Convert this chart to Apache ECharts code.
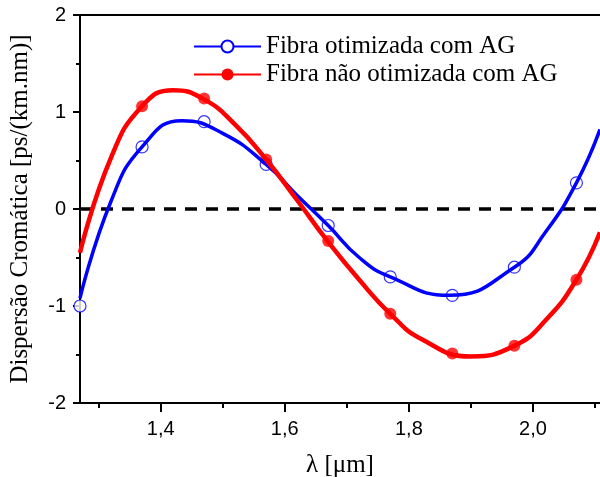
<!DOCTYPE html>
<html>
<head>
    <meta charset="UTF-8">
    <title></title>
    <script src="https://cdn.jsdelivr.net/npm/echarts@6/dist/echarts.min.js"></script>
    <style>
        html, body { margin: 0; padding: 0; background: #fff; }
        #container { width: 600px; height: 477px; }
    </style>
</head>
<body>
    <div id="container"></div>
    <script type="text/javascript">
        // marker positions (red first marker is not visible in the picture)
        var markX = [1.27, 1.37, 1.47, 1.57, 1.67, 1.77, 1.87, 1.97, 2.07];
        var blueMark = [-1.00, 0.64, 0.90, 0.46, -0.17, -0.70, -0.89, -0.60, 0.27];
        var redMark = [null, 1.06, 1.14, 0.51, -0.33, -1.08, -1.49, -1.41, -0.73];

        // curves (one point at each turning point)
        var blueCurveX = [1.27, 1.32, 1.37, 1.434, 1.50, 1.57, 1.62, 1.67, 1.72, 1.77, 1.865, 1.97, 2.02, 2.07, 2.108];
        var blueCurveY = [-0.92, 0.08, 0.64, 0.91, 0.78, 0.46, 0.14, -0.17, -0.50, -0.70, -0.89, -0.60, -0.24, 0.27, 0.82];
        var redCurveX = [1.27, 1.32, 1.37, 1.42, 1.47, 1.52, 1.57, 1.62, 1.67, 1.72, 1.77, 1.82, 1.90, 1.97, 2.02, 2.07, 2.108];
        var redCurveY = [-0.45, 0.53, 1.06, 1.225, 1.13, 0.87, 0.51, 0.09, -0.34, -0.73, -1.08, -1.34, -1.52, -1.41, -1.15, -0.73, -0.24];

        var xMin = 1.27, xMax = 2.108;
        var xMajor = [1.4, 1.6, 1.8, 2.0];
        var xMinor = [1.3, 1.5, 1.7, 1.9, 2.1];
        var yMin = -2, yMax = 2;

        var serif = '"Liberation Serif", "DejaVu Serif", serif';
        var sans = '"Liberation Sans", Arial, sans-serif';

        function pairs(xs, ys) {
            return xs.map(function (x, i) { return [x, ys[i]]; })
                .filter(function (p) { return p[1] !== null; });
        }

        var myChart = echarts.init(document.getElementById('container'));
        var option = {
            animation: false,
            grid: { left: 80, right: 0, top: 15, bottom: 74, outerBoundsMode: 'none' },
            legend: {
                orient: 'vertical',
                left: 188,
                top: 29,
                itemWidth: 67,
                itemHeight: 15,
                itemGap: 3,
                data: ['Fibra otimizada com AG', 'Fibra não otimizada com AG'],
                textStyle: { fontFamily: serif, fontSize: 25, color: '#000' }
            },
            xAxis: [{
                type: 'value', min: xMin, max: xMax, position: 'bottom',
                name: 'λ [μm]', nameLocation: 'middle', nameGap: 50,
                nameTextStyle: { fontFamily: serif, fontSize: 25, color: '#000' },
                axisLine: { onZero: false, lineStyle: { color: '#000', width: 2 } },
                axisTick: { customValues: xMajor, length: 9, lineStyle: { color: '#000', width: 2 } },
                axisLabel: {
                    customValues: xMajor, margin: 16,
                    fontFamily: sans, fontSize: 20, color: '#000',
                    formatter: function (v) { return v.toFixed(1).replace('.', ','); }
                },
                splitLine: { show: false }
            }, {
                type: 'value', min: xMin, max: xMax, position: 'bottom',
                axisLine: { show: false, onZero: false },
                axisTick: { customValues: xMinor, length: 5, lineStyle: { color: '#000', width: 2 } },
                axisLabel: { show: false },
                splitLine: { show: false }
            }, {
                type: 'value', min: xMin, max: xMax, position: 'top',
                axisLine: { onZero: false, lineStyle: { color: '#000', width: 2 } },
                axisTick: { show: false },
                axisLabel: { show: false },
                splitLine: { show: false }
            }],
            yAxis: {
                type: 'value', min: yMin, max: yMax, interval: 1,
                name: 'Dispersão Cromática [ps/(km.nm)]', nameLocation: 'middle', nameGap: 47,
                nameTextStyle: { fontFamily: serif, fontSize: 25, color: '#000' },
                axisLine: { onZero: false, lineStyle: { color: '#000', width: 2 } },
                axisTick: { length: 7, lineStyle: { color: '#000', width: 2 } },
                minorTick: { show: true, splitNumber: 2, length: 4, lineStyle: { color: '#000', width: 2 } },
                axisLabel: { margin: 14, fontFamily: sans, fontSize: 20, color: '#000' },
                splitLine: { show: false }
            },
            series: [{
                name: 'zero', type: 'line', silent: true, symbol: 'none',
                data: [[xMin, 0], [xMax, 0]],
                lineStyle: { color: '#000', width: 3.5, type: [12, 9] }
            }, {
                name: 'Fibra otimizada com AG', type: 'line', smooth: 0.5, clip: true,
                symbol: 'emptyCircle', showSymbol: false,
                data: pairs(blueCurveX, blueCurveY),
                lineStyle: { color: '#0000ff', width: 3.5 },
                itemStyle: { color: '#0000ff' }
            }, {
                name: 'mk-blue', type: 'scatter', symbol: 'circle', symbolSize: 12, clip: true,
                data: pairs(markX, blueMark),
                itemStyle: { color: '#fff', borderColor: '#0000ff', borderWidth: 1.2 }
            }, {
                name: 'Fibra não otimizada com AG', type: 'line', smooth: 0.5, clip: true,
                symbol: 'circle', showSymbol: false,
                data: pairs(redCurveX, redCurveY),
                lineStyle: { color: '#ff0000', width: 4.5 },
                itemStyle: { color: '#ff0000' }
            }, {
                name: 'mk-red', type: 'scatter', symbol: 'circle', symbolSize: 12, clip: true,
                data: pairs(markX, redMark),
                itemStyle: { color: '#ff0000' }
            }]
        };
        myChart.setOption(option);
    </script>
</body>
</html>
